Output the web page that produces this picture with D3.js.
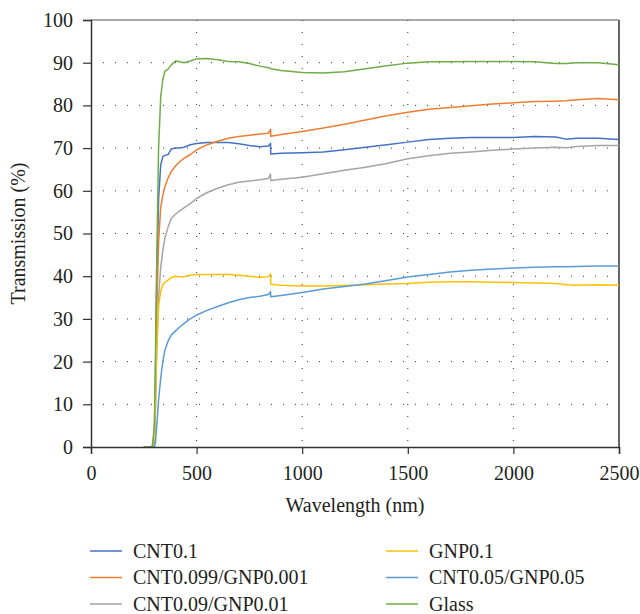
<!DOCTYPE html>
<html>
<head>
<meta charset="utf-8">
<script src="https://cdn.jsdelivr.net/npm/d3@7"></script>
<style>
  body { margin: 0; background: #fff; }
</style>
</head>
<body>
<svg id="chart" width="640" height="614"></svg>
<script>
// wavelength grid (nm) shared by all series
const wavelength = [250, 290, 300, 305, 310, 320, 330, 340, 350, 365, 380, 400, 420, 440, 470, 500, 550, 600, 650, 700, 750, 800, 840, 850, 851, 900, 1000, 1100, 1200, 1300, 1400, 1500, 1600, 1700, 1800, 1900, 2000, 2100, 2200, 2250, 2300, 2400, 2500];

const cnt01 = [0, 0, 3, 15, 35, 58, 66, 68, 68.3, 68.5, 69.8, 70.0, 70.0, 70.2, 70.8, 71.1, 71.3, 71.3, 71.3, 71.0, 70.6, 70.3, 70.5, 71.1, 68.6, 68.8, 68.9, 69.1, 69.6, 70.2, 70.8, 71.4, 72.0, 72.3, 72.5, 72.5, 72.5, 72.7, 72.6, 72.1, 72.3, 72.3, 72.0];
const cnt0099 = [0, 0, 2, 12, 30, 48, 56, 59, 61, 63, 64.5, 65.8, 66.8, 67.6, 68.5, 69.6, 70.8, 71.6, 72.3, 72.7, 73.0, 73.3, 73.5, 74.4, 72.8, 73.2, 73.9, 74.7, 75.6, 76.6, 77.6, 78.4, 79.1, 79.5, 79.9, 80.3, 80.6, 80.9, 81.0, 81.1, 81.3, 81.6, 81.3];
const cnt009 = [0, 0, 1, 8, 20, 35, 42, 46, 49, 51.5, 53.5, 54.5, 55.3, 56.0, 57.0, 58.2, 59.6, 60.6, 61.4, 62.0, 62.3, 62.6, 62.9, 63.9, 62.4, 62.7, 63.2, 64.0, 64.8, 65.5, 66.4, 67.5, 68.2, 68.8, 69.1, 69.5, 69.8, 70.0, 70.2, 70.1, 70.4, 70.6, 70.6];
const gnp01 = [0, 0, 2, 10, 22, 33, 36.5, 38.0, 38.6, 39.1, 39.7, 40.0, 39.9, 39.9, 40.2, 40.4, 40.4, 40.4, 40.4, 40.2, 40.0, 39.7, 39.9, 40.5, 38.1, 37.9, 37.7, 37.7, 37.8, 38.0, 38.2, 38.3, 38.6, 38.7, 38.7, 38.6, 38.5, 38.4, 38.3, 38.0, 37.9, 38.0, 37.9];
const cnt005 = [0, 0, 0, 1, 4, 11, 16, 20, 22.7, 24.8, 26.2, 27.2, 28.1, 28.9, 30.0, 30.9, 32.0, 32.9, 33.8, 34.5, 35.0, 35.3, 35.7, 36.4, 35.2, 35.5, 36.2, 37.0, 37.6, 38.2, 39.0, 39.8, 40.4, 41.0, 41.4, 41.7, 41.9, 42.1, 42.2, 42.2, 42.3, 42.4, 42.4];
const glass = [0, 0, 5, 20, 40, 70, 82, 86, 88, 88.5, 89.5, 90.4, 90.2, 90.0, 90.4, 90.9, 91.0, 90.7, 90.3, 90.2, 89.8, 89.2, 88.8, 88.7, 88.6, 88.2, 87.7, 87.6, 87.9, 88.6, 89.3, 89.9, 90.2, 90.2, 90.3, 90.3, 90.3, 90.2, 89.8, 89.8, 90.0, 90.0, 89.5];

const seriesNames = ["CNT0.1", "CNT0.099/GNP0.001", "CNT0.09/GNP0.01", "GNP0.1", "CNT0.05/GNP0.05", "Glass"];
const seriesValues = [cnt01, cnt0099, cnt009, gnp01, cnt005, glass];
const seriesColors = ["#4472c4", "#ed7d31", "#a5a5a5", "#ffc000", "#5b9bd5", "#70ad47"];

const xTicks = [0, 500, 1000, 1500, 2000, 2500];
const yTicks = [0, 10, 20, 30, 40, 50, 60, 70, 80, 90, 100];

const serif = '"Liberation Serif", "Times New Roman", "DejaVu Serif", serif';
const fontSize = 20;

const margin = { top: 20, right: 21, bottom: 167, left: 91 };
const width = 640 - margin.left - margin.right;
const height = 614 - margin.top - margin.bottom;

const svg = d3.select("#chart");
const g = svg.append("g").attr("transform", `translate(${margin.left},${margin.top})`);

const x = d3.scaleLinear().domain([0, 2500]).range([0, width]);
const y = d3.scaleLinear().domain([0, 100]).range([height, 0]);

// dotted grid
g.append("g").selectAll("line")
  .data(yTicks.filter(d => d > 0 && d < 100))
  .join("line")
  .attr("x1", 0).attr("x2", width)
  .attr("y1", d => y(d)).attr("y2", d => y(d))
  .attr("stroke", "#333").attr("stroke-width", 1)
  .attr("stroke-dasharray", "1,11");

g.append("g").selectAll("line")
  .data(xTicks.filter(d => d > 0 && d < 2500))
  .join("line")
  .attr("x1", d => x(d)).attr("x2", d => x(d))
  .attr("y1", 0).attr("y2", height)
  .attr("stroke", "#333").attr("stroke-width", 1)
  .attr("stroke-dasharray", "1,11");

// top and right frame
g.append("line").attr("x1", 0).attr("x2", width).attr("y1", 0).attr("y2", 0)
  .attr("stroke", "#555").attr("stroke-width", 1);
g.append("line").attr("x1", width).attr("x2", width).attr("y1", 0).attr("y2", height)
  .attr("stroke", "#666").attr("stroke-width", 2);

// series
const line = d3.line()
  .x((d, i) => x(wavelength[i]))
  .y(d => y(d));

seriesValues.forEach((vals, k) => {
  g.append("path")
    .datum(vals)
    .attr("fill", "none")
    .attr("stroke", seriesColors[k])
    .attr("stroke-width", 1.5)
    .attr("stroke-linejoin", "round")
    .attr("d", line);
});

// axes
const xAxis = g.append("g")
  .attr("transform", `translate(0,${height})`)
  .call(d3.axisBottom(x).tickValues(xTicks).tickFormat(d3.format("d")).tickSize(7).tickPadding(12));
const yAxis = g.append("g")
  .call(d3.axisLeft(y).tickValues(yTicks).tickFormat(d3.format("d")).tickSize(8).tickPadding(10));

[xAxis, yAxis].forEach(a => {
  a.attr("font-family", serif).attr("font-size", fontSize);
  a.select(".domain").attr("stroke", "#333").attr("stroke-width", 1.5);
  a.selectAll(".tick line").attr("stroke", "#333").attr("stroke-width", 1.2);
  a.selectAll(".tick text").attr("fill", "#231f20");
});

// axis titles
svg.append("text")
  .attr("x", margin.left + width / 2)
  .attr("y", 512)
  .attr("text-anchor", "middle")
  .attr("font-family", serif)
  .attr("font-size", fontSize)
  .attr("fill", "#231f20")
  .text("Wavelength (nm)");

svg.append("text")
  .attr("transform", `translate(25,${margin.top + height / 2}) rotate(-90)`)
  .attr("text-anchor", "middle")
  .attr("font-family", serif)
  .attr("font-size", fontSize)
  .attr("fill", "#231f20")
  .text("Transmission (%)");

// legend
const legendCols = [90, 386];
const legendRows = [551, 577.5, 604];
seriesNames.forEach((name, k) => {
  const cx = legendCols[Math.floor(k / 3)];
  const cy = legendRows[k % 3];
  svg.append("line")
    .attr("x1", cx).attr("x2", cx + 32)
    .attr("y1", cy).attr("y2", cy)
    .attr("stroke", seriesColors[k]).attr("stroke-width", 1.5);
  svg.append("text")
    .attr("x", cx + 43)
    .attr("y", cy + 6.5)
    .attr("font-family", serif)
    .attr("font-size", fontSize)
    .attr("fill", "#231f20")
    .text(name);
});
</script>
</body>
</html>
